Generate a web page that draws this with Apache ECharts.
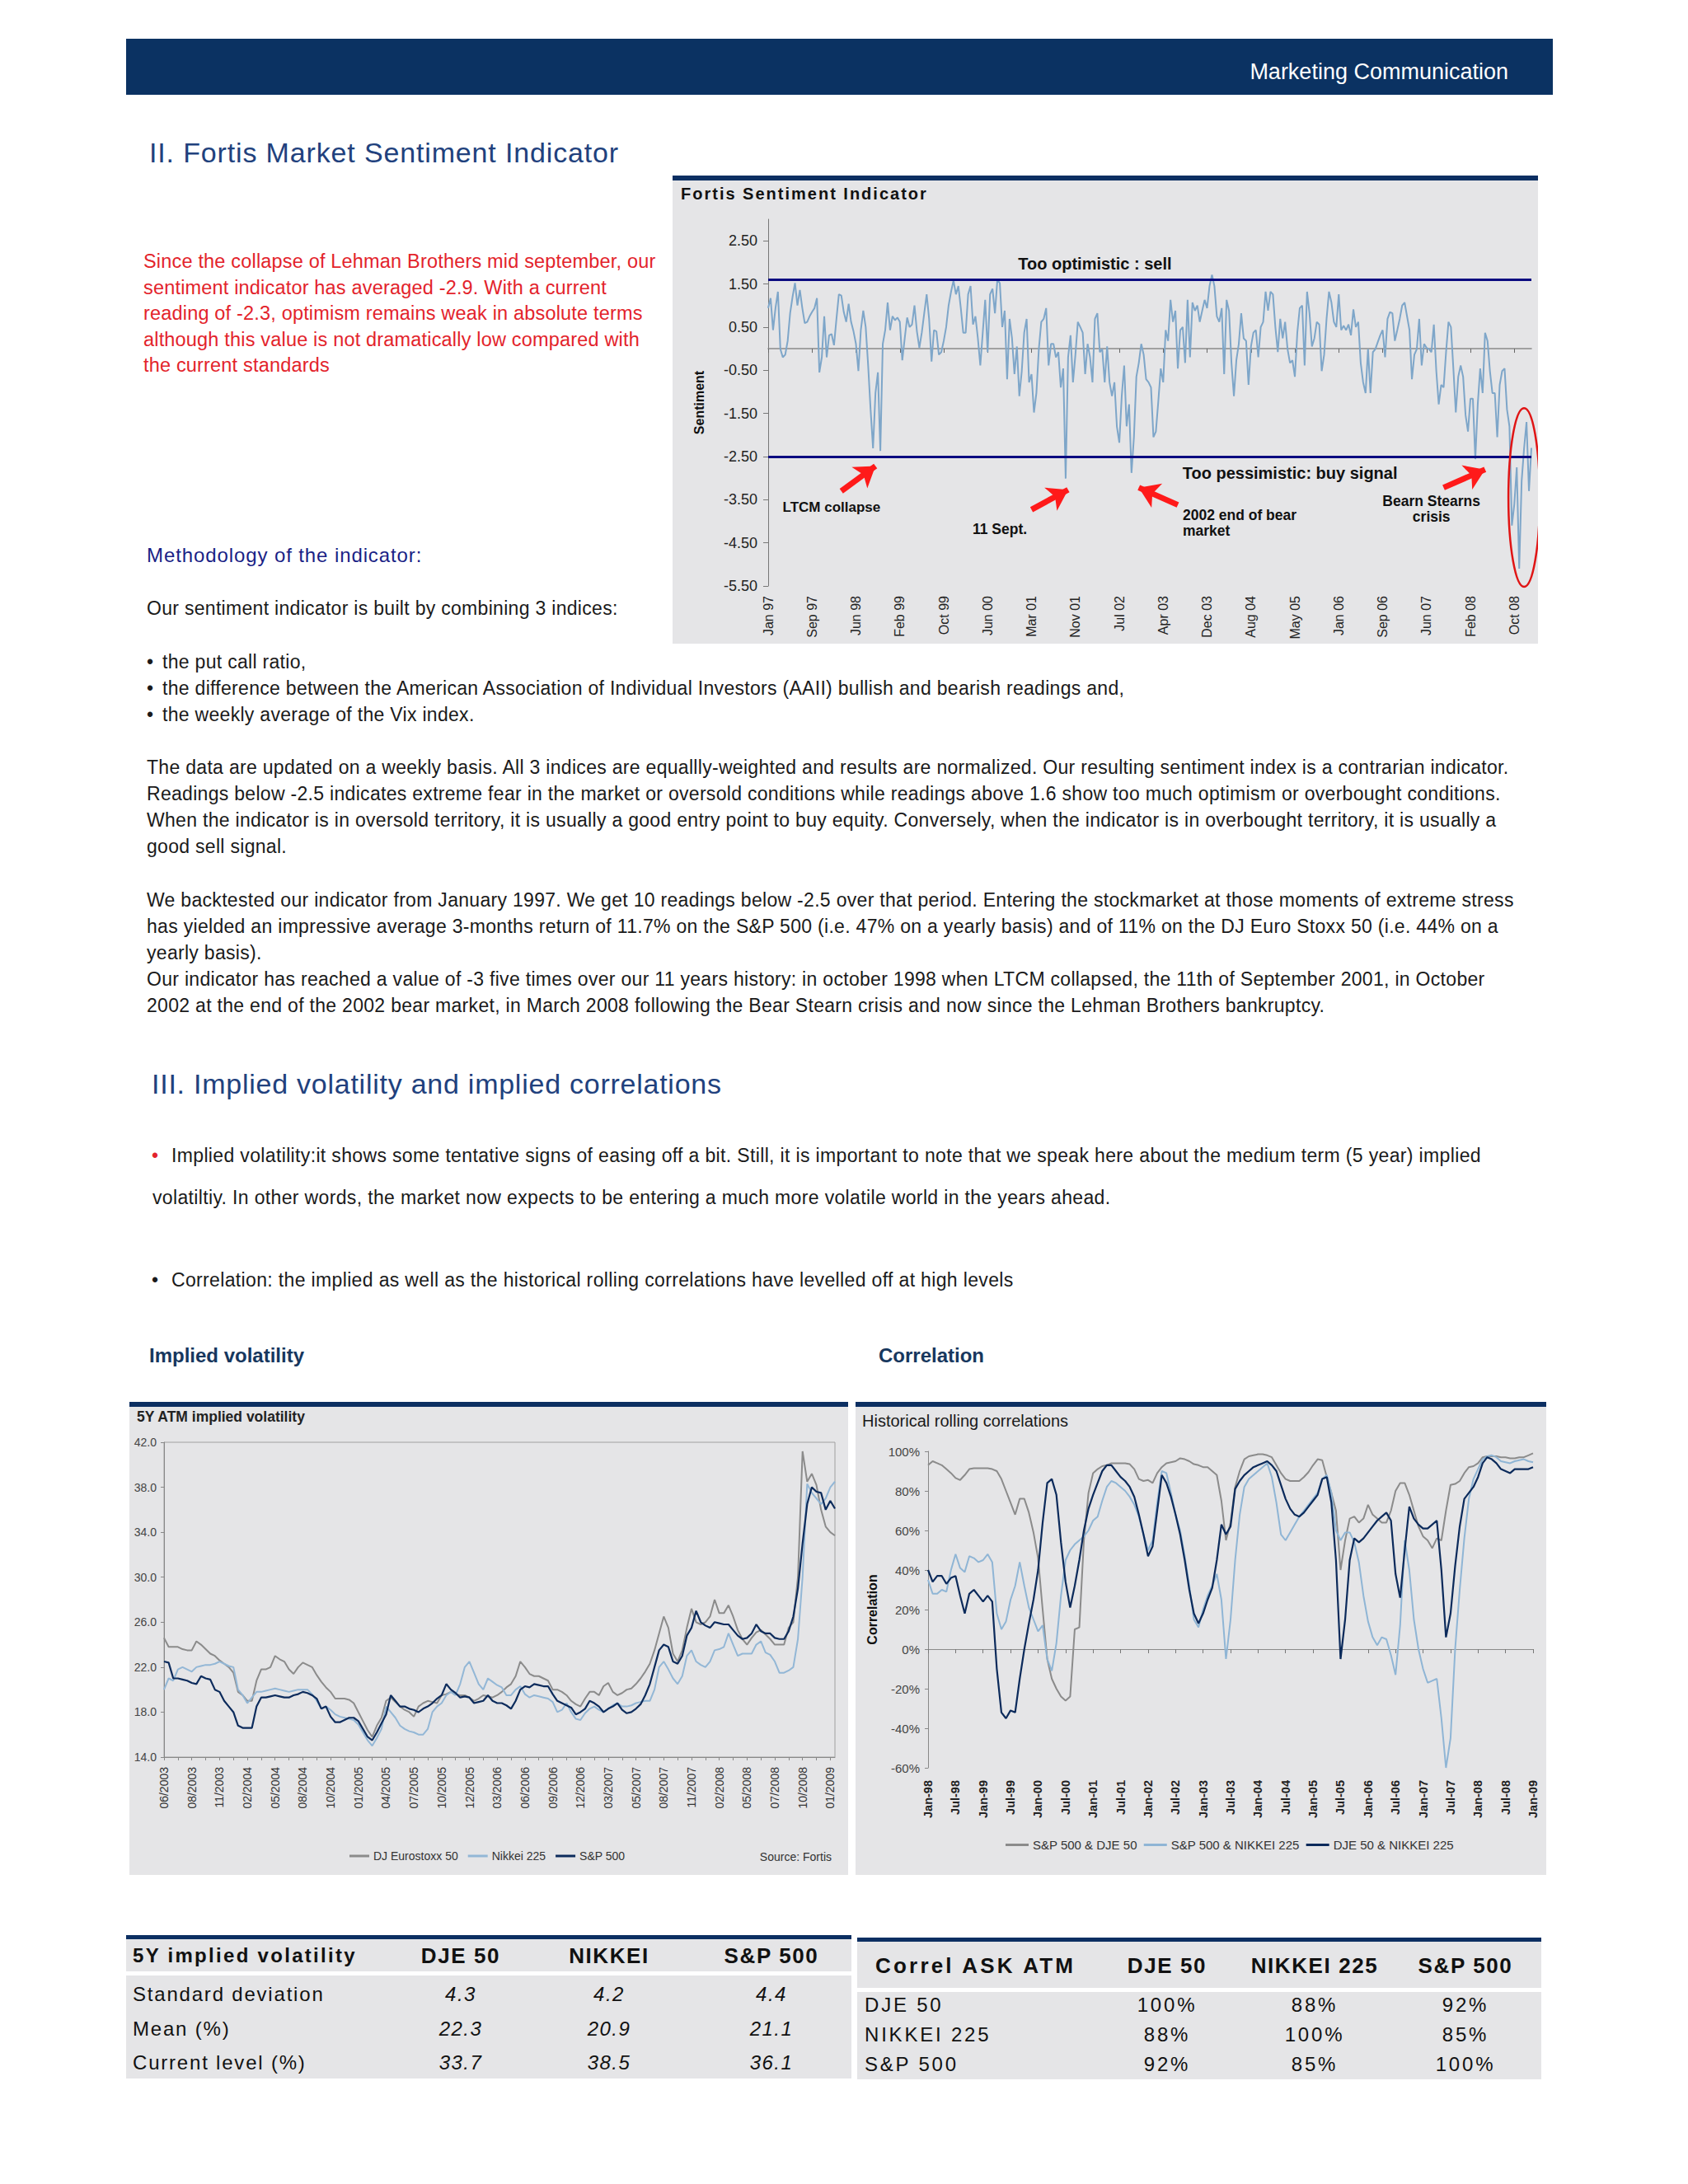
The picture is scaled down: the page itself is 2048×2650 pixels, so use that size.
<!DOCTYPE html>
<html><head><meta charset="utf-8">
<script src="https://cdn.jsdelivr.net/npm/echarts@6/dist/echarts.min.js"></script>
<style>
html,body{margin:0;padding:0;background:#fff;}
body{width:2048px;height:2650px;position:relative;font-family:"Liberation Sans",Arial,sans-serif;color:#1a1a1a;overflow:hidden}
.hdr{position:absolute;left:153px;top:47px;width:1731px;height:68px;background:#0b3262;}
.hdr span{position:absolute;right:54px;top:24px;color:#fff;font-size:27px;line-height:32px;}
.h1{position:absolute;white-space:nowrap;font-size:34px;line-height:38px;color:#21417d;letter-spacing:0.85px;}
.ln{position:absolute;white-space:nowrap;font-size:23px;line-height:32px;letter-spacing:0.3px;}
.bl{display:inline-block;width:19px;}
.red{position:absolute;left:174px;top:302px;width:660px;height:170px;white-space:nowrap;font-size:23.5px;line-height:31.5px;color:#e3232b;letter-spacing:0.18px;}
.sub{position:absolute;white-space:nowrap;font-size:24px;line-height:32px;font-weight:bold;color:#17375e;}
.box{position:absolute;box-sizing:border-box;background:#e5e5e7;border-top:6px solid #0c2f62;}
.chart{position:absolute;}
.ctitle{position:absolute;white-space:nowrap;font-size:20px;line-height:24px;font-weight:bold;color:#111;letter-spacing:2px;}
.tb{position:absolute;}
.cell{position:absolute;white-space:nowrap;line-height:32px;height:32px;font-size:24px;color:#111;}
</style></head>
<body>
<div class="hdr"><span>Marketing Communication</span></div>
<div class="h1" style="left:181px;top:166px;">II. Fortis Market Sentiment Indicator</div>

<div class="red">Since the collapse of Lehman Brothers mid september, our<br>sentiment indicator has averaged -2.9. With a current<br>reading of -2.3, optimism remains weak in absolute terms<br>although this value is not dramatically low compared with<br>the current standards</div>

<div class="box" style="left:816px;top:213px;width:1050px;height:568px;"></div>
<div id="sent" class="chart" style="left:816px;top:219px;width:1050px;height:562px;"></div>
<div class="ctitle" style="left:826px;top:223px;">Fortis Sentiment Indicator</div>

<div class="ln" style="left:178px;top:658px;color:#1a1f86;font-size:24px;letter-spacing:0.9px;">Methodology of the indicator:</div>
<div class="ln" style="left:178px;top:722px;">Our sentiment indicator is built by combining 3 indices:</div>
<div class="ln" style="left:178px;top:787px;"><span class="bl">•</span>the put call ratio,<br><span class="bl">•</span>the difference between the American Association of Individual Investors (AAII) bullish and bearish readings and,<br><span class="bl">•</span>the weekly average of the Vix index.</div>
<div class="ln" style="left:178px;top:915px;">The data are updated on a weekly basis. All 3 indices are equallly-weighted and results are normalized. Our resulting sentiment index is a contrarian indicator.<br>Readings below -2.5 indicates extreme fear in the market or oversold conditions while readings above 1.6 show too much optimism or overbought conditions.<br>When the indicator is in oversold territory, it is usually a good entry point to buy equity. Conversely, when the indicator is in overbought territory, it is usually a<br>good sell signal.</div>
<div class="ln" style="left:178px;top:1076px;">We backtested our indicator from January 1997. We get 10 readings below -2.5 over that period. Entering the stockmarket at those moments of extreme stress<br>has yielded an impressive average 3-months return of 11.7% on the S&amp;P 500 (i.e. 47% on a yearly basis) and of 11% on the DJ Euro Stoxx 50 (i.e. 44% on a<br>yearly basis).<br>Our indicator has reached a value of -3 five times over our 11 years history: in october 1998 when LTCM collapsed, the 11th of September 2001, in October<br>2002 at the end of the 2002 bear market, in March 2008 following the Bear Stearn crisis and now since the Lehman Brothers bankruptcy.</div>

<div class="h1" style="left:184px;top:1296px;letter-spacing:0.75px;">III. Implied volatility and implied correlations</div>
<div class="ln" style="left:184px;top:1386px;letter-spacing:0.35px;"><span class="bl" style="color:#e3232b;width:24px;">•</span>Implied volatility:it shows some tentative signs of easing off a bit. Still, it is important to note that we speak here about the medium term (5 year) implied</div>
<div class="ln" style="left:185px;top:1437px;letter-spacing:0.35px;">volatiltiy. In other words, the market now expects to be entering a much more volatile world in the years ahead.</div>
<div class="ln" style="left:184px;top:1537px;letter-spacing:0.35px;"><span class="bl" style="width:24px;">•</span>Correlation: the implied as well as the historical rolling correlations have levelled off at high levels</div>
<div class="sub" style="left:181px;top:1629px;">Implied volatility</div>
<div class="sub" style="left:1066px;top:1629px;">Correlation</div>

<div class="box" style="left:157px;top:1701px;width:872px;height:574px;"></div>
<div id="vol" class="chart" style="left:157px;top:1707px;width:872px;height:568px;"></div>
<div class="box" style="left:1038px;top:1701px;width:838px;height:574px;"></div>
<div id="cor" class="chart" style="left:1038px;top:1707px;width:838px;height:568px;"></div>

<div id="tables"></div>

<script>
// ---------------- DATA ----------------
const sentTickLabels = ['Jan 97','Sep 97','Jun 98','Feb 99','Oct 99','Jun 00','Mar 01','Nov 01','Jul 02','Apr 03','Dec 03','Aug 04','May 05','Jan 06','Sep 06','Jun 07','Feb 08','Oct 08'];
// bi-weekly readings, Jan 1997 -> Nov 2008
const sentValues = [
0.94,1.17,0.43,0.94,1.32,-0.01,-0.2,-0.14,0.18,0.82,
1.2,1.52,1.0,1.36,0.94,0.59,0.62,0.75,0.85,0.94,
1.17,-0.55,-0.2,0.75,-0.2,0.31,0.34,0.08,0.69,1.26,
1.23,0.85,0.62,1.04,0.62,0.4,0.11,-0.52,0.43,0.88,
0.5,-0.39,-1.41,-2.31,-1.03,-0.55,-2.37,0.11,0.43,1.07,
0.43,0.75,0.66,0.72,0.62,-0.27,0.24,0.72,0.5,0.56,
1.0,0.4,0.02,0.37,0.82,1.26,0.69,-0.3,0.43,0.4,
-0.14,-0.08,0.18,0.5,1.0,1.32,1.58,1.26,1.45,
0.94,0.37,0.37,1.26,1.45,0.56,0.75,0.24,-0.39,0.37,
1.13,-0.08,1.26,1.39,0.82,1.6,1.52,0.5,0.88,-0.71,
0.69,0.24,-0.59,0.05,-1.1,-0.52,0.37,0.69,-0.78,-0.59,
-1.48,-1.03,-0.01,0.62,0.69,0.94,-0.39,0.11,0.11,-0.2,
-0.08,-0.9,-0.46,-3.01,-0.2,0.31,-0.78,-0.14,0.62,0.5,
0.37,-0.59,0.11,-0.2,-0.78,0.69,0.82,-0.08,-0.01,-0.78,
0.05,-0.78,-1.1,-0.78,-1.8,-2.18,-1.1,-0.39,-1.8,-1.29,
-2.88,-2.05,-0.65,-0.33,0.11,-0.14,-0.71,-0.78,-0.9,
-2.05,-1.92,-1.22,-0.46,-0.78,0.43,0.18,1.13,0.62,0.88,
-0.46,0.43,0.5,-0.33,1.13,-0.2,1.07,0.88,1.0,0.62,
0.88,1.13,0.94,1.45,1.71,1.45,0.75,0.62,0.94,-0.59,
1.13,0.88,-0.33,-1.1,-0.27,0.11,0.82,0.24,0.18,-0.84,
0.05,0.37,0.43,-0.2,0.5,0.62,1.32,0.88,1.32,1.26,
0.5,-0.08,0.69,0.24,0.62,-0.01,-0.33,-0.27,-0.65,0.37,
0.94,1.0,-0.39,1.32,0.82,0.05,0.24,0.62,0.56,-0.52,
-0.14,0.69,1.32,1.07,0.62,0.5,1.26,0.43,
0.53,0.43,0.56,0.31,0.91,0.5,0.62,-0.33,-0.78,-1.03,
-0.01,-1.03,-0.08,-0.01,0.15,0.31,0.43,-0.2,0.69,0.85,
0.82,0.18,0.43,0.69,1.0,1.07,0.75,0.43,-0.71,-0.14,
-0.01,0.69,-0.39,0.11,0.02,-0.01,-0.08,0.56,-0.52,-1.29,
-0.84,-0.9,-0.08,0.62,0.5,-0.46,-1.48,-0.65,-0.39,-0.65,
-1.54,-1.92,-1.16,-1.16,-2.56,-1.29,-0.46,-1.03,0.37,0.18,
-0.52,-1.03,-1.03,-2.05,-0.84,-0.52,-0.46,-1.41,-1.8,-4.1,
-3.6,-2.75,-5.1,-3.07,-2.31,-1.7,-3.3,-2.3];
const sentYTicks = [-5.5,-4.5,-3.5,-2.5,-1.5,-0.5,0.5,1.5,2.5];
const sentThresholds = [1.6, -2.5];

const volTickLabels = ['06/2003','08/2003','11/2003','02/2004','05/2004','08/2004','10/2004','01/2005','04/2005','07/2005','10/2005','12/2005','03/2006','06/2006','09/2006','12/2006','03/2007','05/2007','08/2007','11/2007','02/2008','05/2008','07/2008','10/2008','01/2009'];
const volEuro = [
24.6,23.8,23.8,23.8,23.6,23.5,23.5,24.3,24.0,23.6,
23.2,23.0,22.6,22.3,22.0,21.5,19.8,19.5,19.0,19.0,
20.8,21.8,21.8,22.0,23.0,22.7,22.5,21.8,21.4,22.0,
22.4,22.2,22.0,21.3,20.7,20.2,19.8,19.2,19.2,19.2,
19.1,18.8,18.0,17.2,16.4,15.8,16.8,17.5,19.0,19.3,
18.9,18.5,18.2,18.0,17.6,18.5,18.8,19.0,18.9,18.8,
19.5,19.6,19.8,19.6,19.5,19.5,19.3,19.0,19.2,19.5,
19.4,19.3,19.5,19.8,20.2,20.5,21.2,22.5,22.0,21.4,
21.2,21.2,21.0,20.8,20.0,20.0,19.8,19.5,19.0,18.7,
18.5,19.2,19.8,19.8,19.5,20.3,20.6,19.8,19.5,19.7,
20.0,20.1,20.5,21.0,21.6,22.3,23.5,25.0,26.5,25.5,
23.2,22.5,23.5,25.5,27.2,26.0,25.8,26.0,26.5,28.0,
26.8,26.8,27.5,26.5,25.3,24.5,24.0,24.6,25.1,25.3,
24.9,24.5,24.0,24.0,24.0,25.5,26.0,30.0,41.2,38.5,
39.2,38.2,36.0,34.5,34.0,33.7];
const volNikkei = [
20.0,21.0,20.8,21.8,22.0,21.8,21.6,22.0,22.1,22.2,
22.2,22.3,22.5,22.3,22.1,22.0,20.0,19.5,18.8,19.3,
19.8,19.8,19.9,20.0,20.1,20.0,19.9,19.8,19.9,20.0,
20.0,20.0,19.6,19.0,18.3,18.5,18.2,17.8,17.6,17.5,
17.4,17.3,16.9,16.2,15.5,15.0,15.7,16.5,18.5,18.0,
17.5,16.8,16.5,16.3,16.2,16.0,16.0,16.5,18.0,18.5,
18.8,19.5,19.8,19.5,20.5,22.0,22.5,21.5,20.5,20.0,
21.0,20.7,20.4,20.2,19.5,19.5,20.0,20.3,19.6,19.3,
19.5,19.4,19.3,19.2,18.9,18.0,18.2,18.8,18.0,17.4,
17.3,17.9,18.3,18.5,18.2,18.0,18.3,18.6,18.8,18.5,
18.5,18.6,18.8,18.9,19.0,19.0,20.0,22.0,22.5,21.8,
21.0,20.5,21.2,23.0,23.5,22.5,22.2,22.0,22.5,23.5,
23.6,23.8,25.0,24.0,23.0,23.2,23.2,23.2,24.0,24.3,
23.3,23.1,22.5,21.5,21.5,21.7,22.0,24.5,30.0,38.3,
37.5,37.0,36.5,37.0,38.0,38.5];
const volSP = [
22.5,22.4,21.0,21.0,20.9,20.8,20.6,20.5,21.2,21.0,
20.9,20.0,19.8,19.0,18.5,18.0,16.8,16.6,16.6,16.6,
18.5,19.3,19.3,19.4,19.5,19.4,19.3,19.3,19.5,19.6,
19.8,19.7,19.5,19.2,18.3,18.5,17.6,17.1,17.1,17.3,
17.5,17.5,17.2,16.5,15.8,15.5,16.2,17.0,17.8,19.5,
19.0,18.5,18.5,18.3,18.2,18.0,18.3,18.5,18.8,19.2,
19.5,20.5,20.0,19.7,19.3,19.4,19.3,18.8,18.9,19.0,
19.5,19.0,18.8,18.8,18.6,18.3,19.0,20.0,20.3,20.2,
20.5,20.4,20.3,20.3,19.6,19.0,18.8,18.6,18.4,17.8,
18.0,18.3,19.0,18.8,18.5,18.0,18.3,18.5,18.8,18.2,
17.9,18.0,18.3,18.7,19.5,20.5,22.0,23.5,24.0,23.8,
22.5,22.3,23.0,24.8,25.5,27.0,26.0,25.7,25.5,26.0,
25.9,25.8,25.8,25.3,24.8,24.5,24.6,25.0,25.8,25.2,
25.0,25.0,24.6,24.5,24.5,25.2,26.5,29.0,33.0,36.5,
38.0,37.6,37.5,36.0,36.8,36.1];

const corTickLabels = ['Jan-98','Jul-98','Jan-99','Jul-99','Jan-00','Jul-00','Jan-01','Jul-01','Jan-02','Jul-02','Jan-03','Jul-03','Jan-04','Jul-04','Jan-05','Jul-05','Jan-06','Jul-06','Jan-07','Jul-07','Jan-08','Jul-08','Jan-09'];
// monthly, Jan 1998 -> Jan 2009 (%)
const corSpDje = [
93,95,94,93,91,89,86.5,85.5,88,91,
91.5,91.5,91.5,91.5,91,90,86,80,74,68,
76,76,69,59,46,20,-5,-15,-20,-24,
-26,-24,10,11,55,79,89,91,92.5,93,
94,94,94,94,93.5,91,86,85,85.5,84,
89,92,94,94.5,95,96.5,96,95,93.5,93,
92,92,90,88,75,55,64,82,90,96,
97.5,98,98.5,98.5,98,97,93,89,86,85,
85,85,87,89.5,93,96,95.5,87,79,70,
40,55,66,67,64,66,73,68,66,64,
64,70,80,84,84,78,70,62,57,55,
51,56,55,70,83,83.5,85,89,92,92.5,
94,97,97.5,97.5,97.5,97,97,96.5,96.5,97,
97,98,99];
const corSpNikkei = [
35,28,28,30,29,40,48,41,39,47,
46,44,45,48,44,18,10,14,25,32,
44,32,21,15,9,12,-5,-11,3,27,
45,50,53,55,57,60,65,67,75,82,
85,84,82,80,77,73,67,58,50,55,
74,90,89,79,68,60,47,32,15,11,
20,27,32,38,25,-5,15,45,68,82,
86,88,90,92,94,87,74,58,55,59,
63,67,70,73,76,79,86,88,79,60,
55,59,59,54,44,27,14,6,2,6,
5,-3,-13,12,55,40,15,0,-10,-17,
-16,-15,-35,-60,-45,0,30,56,76,86,
91,96,97.5,98,97,95,94.5,94,95,95.5,
96,95,94.5];
const corDjeNikkei = [
40,34,37,37,33,36,37,27,18,28,
30,27,24,27,24,-10,-32,-35,-31,-32,
-15,0,13,25,40,64,84,86,78,54,
34,21,32,45,60,71,78,84,90,93,
93,90,87,85,82,77,68,58,47,52,
70,88,84,77,68,58,45,30,18,13,
18,25,31,45,63,58,62,81,85,88,
90,92,93,94,95,93,90,83,76,71,
68,67,69,72,75,78,86,87,74,45,
-5,15,45,56,54,56,59,62,65,67,
69,65,38,26,50,72,66,63,61,61,
63,65,40,6,18,42,62,76,79,82,
87,94,97,96,94,91,90,89,91,91,
91,91,92];

const tblVolHead = ['5Y implied volatility','DJE 50','NIKKEI','S&P 500'];
const tblVolRows = [['Standard deviation','4.3','4.2','4.4'],['Mean (%)','22.3','20.9','21.1'],['Current level (%)','33.7','38.5','36.1']];
const tblCorHead = ['Correl ASK ATM','DJE 50','NIKKEI 225','S&P 500'];
const tblCorRows = [['DJE 50','100%','88%','92%'],['NIKKEI 225','88%','100%','85%'],['S&P 500','92%','85%','100%']];

// ---------------- CHARTS ----------------
const F = '"Liberation Sans", Arial, sans-serif';

// Sentiment
const sentIdx = sentValues.map((_, i) => String(i));
const sentNotes = [
  {text:'Too optimistic : sell', i:134, v:1.97, align:'center', fs:20},
  {text:'Too pessimistic: buy signal', i:214, v:-2.89, align:'center', fs:20},
  {text:'LTCM collapse', i:26, v:-3.67, align:'center', fs:17},
  {text:'11 Sept.', i:95, v:-4.19, align:'center', fs:17.5},
  {text:'2002 end of bear\nmarket', i:170, v:-4.04, align:'left', fs:17.5},
  {text:'Bearn Stearns\ncrisis', i:272, v:-3.72, align:'center', fs:17.5}
];
const sentArrows = [[30,-3.3,44,-2.72],[108,-3.73,123,-3.27],[168,-3.62,152,-3.22],[277,-3.22,294,-2.8]];

const sent = echarts.init(document.getElementById('sent'), null, {renderer:'svg'});
sent.setOption({
  animation:false,
  textStyle:{fontFamily:F},
  grid:{left:116, right:8, top:47, bottom:70},
  xAxis:[
    {type:'category', data:sentIdx, boundaryGap:false, position:'bottom',
     axisLine:{show:false, onZero:false}, axisTick:{show:false},
     axisLabel:{interval:(i)=> i % 18 === 0, rotate:90, margin:12, fontSize:16, color:'#222', fontFamily:F,
       formatter:(v, i)=> (i % 18 === 0 ? sentTickLabels[i/18] : '')}},
    {type:'category', data:sentIdx, boundaryGap:false, position:'bottom',
     axisLine:{show:true, onZero:true, lineStyle:{color:'#8a8a8a', width:1.5}},
     axisTick:{show:true, interval:17, length:5, inside:false, lineStyle:{color:'#666'}},
     axisLabel:{show:false}}
  ],
  yAxis:{type:'value', min:-5.5, max:3,
    axisLine:{show:true, lineStyle:{color:'#777'}},
    axisTick:{show:true, length:6, customValues:sentYTicks, lineStyle:{color:'#777'}},
    axisLabel:{customValues:sentYTicks, formatter:(v)=> v.toFixed(2), fontSize:18, color:'#222', margin:13, fontFamily:F},
    splitLine:{show:false},
    name:'Sentiment', nameLocation:'middle', nameRotate:90, nameGap:76,
    nameTextStyle:{fontSize:16, fontWeight:'bold', color:'#111', fontFamily:F}},
  series:[
    {type:'line', name:'Sentiment', data:sentValues, xAxisIndex:0, symbol:'none', z:3,
     lineStyle:{color:'#7ea6c9', width:2},
     markLine:{silent:true, symbol:'none', label:{show:false},
       lineStyle:{color:'#0a0a80', width:3, type:'solid'},
       data: sentThresholds.map(t => ({yAxis:t}))},
     markPoint:{symbol:'circle', symbolSize:0, silent:true,
       data: sentNotes.map(n => ({coord:[n.i, n.v],
         label:{show:true, position:'inside', formatter:n.text, align:n.align, verticalAlign:'middle',
           fontSize:n.fs, fontWeight:'bold', color:'#111', lineHeight:19, fontFamily:F}}))}},
    {type:'line', name:'arrows', data:[], xAxisIndex:0, symbol:'none',
     markLine:{silent:true, symbol:['none','arrow'], symbolSize:24, label:{show:false},
       lineStyle:{color:'#ff1a1a', width:7, type:'solid', opacity:1},
       itemStyle:{color:'#ff1a1a'},
       data: sentArrows.map(a => [{coord:[a[0], a[1]]}, {coord:[a[2], a[3]]}])}}
  ]
});
(function(){
  const c = sent.convertToPixel({xAxisIndex:0, yAxisIndex:0}, [310, -3.45]);
  const t = sent.convertToPixel({xAxisIndex:0, yAxisIndex:0}, [310, -1.38]);
  sent.setOption({graphic:[{type:'ellipse', shape:{cx:c[0], cy:c[1], rx:19, ry:Math.abs(c[1]-t[1])},
    style:{fill:'none', stroke:'#e01515', lineWidth:2.5}, z:10}]});
})();

// Implied volatility
const volIdx = volEuro.map((_, i) => String(i));
const vol = echarts.init(document.getElementById('vol'), null, {renderer:'svg'});
vol.setOption({
  animation:false,
  textStyle:{fontFamily:F},
  title:[
    {text:'5Y ATM implied volatility', left:9, top:3, padding:0, textStyle:{fontSize:17.5, fontWeight:'bold', color:'#222', fontFamily:F}},
    {text:'Source: Fortis', right:20, top:539, padding:0, textStyle:{fontSize:14, fontWeight:'normal', color:'#333', fontFamily:F}}
  ],
  grid:{left:42, right:16, top:43, bottom:143, show:true, borderColor:'#a0a0a0', borderWidth:1, backgroundColor:'transparent'},
  legend:{left:262, top:533, icon:'rect', itemWidth:24, itemHeight:3, itemGap:12,
    textStyle:{fontSize:14, color:'#333', fontFamily:F},
    data:['DJ Eurostoxx 50','Nikkei 225','S&P 500']},
  xAxis:{type:'category', data:volIdx, boundaryGap:false,
    axisLine:{lineStyle:{color:'#888'}},
    axisTick:{interval:2, length:4, lineStyle:{color:'#888'}},
    axisLabel:{interval:(i)=> i % 6 === 0, rotate:90, margin:12, fontSize:14, color:'#333', fontFamily:F,
      formatter:(v, i)=> (i % 6 === 0 ? volTickLabels[i/6] : '')}},
  yAxis:{type:'value', min:14, max:42, interval:4,
    axisLine:{show:true, lineStyle:{color:'#888'}},
    axisTick:{show:true, length:4, lineStyle:{color:'#888'}},
    axisLabel:{formatter:(v)=> v.toFixed(1), fontSize:14, color:'#444', margin:9, fontFamily:F},
    splitLine:{show:false}},
  series:[
    {type:'line', name:'DJ Eurostoxx 50', data:volEuro, symbol:'none', lineStyle:{color:'#8b8b8b', width:2}, itemStyle:{color:'#8b8b8b'}},
    {type:'line', name:'Nikkei 225', data:volNikkei, symbol:'none', lineStyle:{color:'#93b7d6', width:2}, itemStyle:{color:'#93b7d6'}},
    {type:'line', name:'S&P 500', data:volSP, symbol:'none', lineStyle:{color:'#0c2b5c', width:2.2}, itemStyle:{color:'#0c2b5c'}}
  ]
});

// Correlations
const corIdx = corSpDje.map((_, i) => String(i));
const cor = echarts.init(document.getElementById('cor'), null, {renderer:'svg'});
cor.setOption({
  animation:false,
  textStyle:{fontFamily:F},
  title:{text:'Historical rolling correlations', left:8, top:7, padding:0, textStyle:{fontSize:20, fontWeight:'normal', color:'#1a1a1a', fontFamily:F}},
  grid:{left:88, right:16, top:54, bottom:130},
  legend:{left:177, top:519, icon:'rect', itemWidth:28, itemHeight:3, itemGap:8,
    textStyle:{fontSize:15, color:'#333', fontFamily:F},
    data:['S&P 500 & DJE 50','S&P 500 & NIKKEI 225','DJE 50 & NIKKEI 225']},
  xAxis:[
    {type:'category', data:corIdx, boundaryGap:false, position:'bottom',
     axisLine:{show:false, onZero:false}, axisTick:{show:false},
     axisLabel:{interval:(i)=> i % 6 === 0, rotate:90, margin:15, fontSize:14.5, fontWeight:'bold', color:'#222', fontFamily:F,
       formatter:(v, i)=> (i % 6 === 0 ? corTickLabels[i/6] : '')}},
    {type:'category', data:corIdx, boundaryGap:false, position:'bottom',
     axisLine:{show:true, onZero:true, lineStyle:{color:'#8a8a8a', width:1.2}},
     axisTick:{show:true, interval:5, length:5, lineStyle:{color:'#777'}},
     axisLabel:{show:false}}
  ],
  yAxis:{type:'value', min:-60, max:100, interval:20,
    axisLine:{show:true, lineStyle:{color:'#888'}},
    axisTick:{show:true, length:4, lineStyle:{color:'#888'}},
    axisLabel:{formatter:(v)=> v + '%', fontSize:15, color:'#444', margin:10, fontFamily:F},
    splitLine:{show:false},
    name:'Correlation', nameLocation:'middle', nameRotate:90, nameGap:56,
    nameTextStyle:{fontSize:16, fontWeight:'bold', color:'#111', fontFamily:F}},
  series:[
    {type:'line', name:'S&P 500 & DJE 50', data:corSpDje, symbol:'none', lineStyle:{color:'#8b8b8b', width:2}, itemStyle:{color:'#8b8b8b'}},
    {type:'line', name:'S&P 500 & NIKKEI 225', data:corSpNikkei, symbol:'none', lineStyle:{color:'#8fb5d5', width:2}, itemStyle:{color:'#8fb5d5'}},
    {type:'line', name:'DJE 50 & NIKKEI 225', data:corDjeNikkei, symbol:'none', lineStyle:{color:'#0b2a5b', width:2.2}, itemStyle:{color:'#0b2a5b'}}
  ]
});

// ---------------- TABLES ----------------
(function(){
  const root = document.getElementById('tables');
  function rect(l,t,w,h,c){const d=document.createElement('div');d.className='tb';d.style.cssText=`left:${l}px;top:${t}px;width:${w}px;height:${h}px;background:${c}`;root.appendChild(d);}
  function txt(s,x,cy,opt){const d=document.createElement('div');d.className='cell';d.textContent=s;
    let css=`top:${cy-16}px;`;
    if(opt.center){css+=`left:${x-120}px;width:240px;text-align:center;`;} else {css+=`left:${x}px;`;}
    if(opt.bold) css+='font-weight:bold;'; if(opt.italic) css+='font-style:italic;';
    css+=`letter-spacing:${opt.ls||0}px;font-size:${opt.fs||24}px;`;
    d.style.cssText=css; root.appendChild(d);}
  const navy='#0c2f62', gray='#e5e5e7';
  // left table
  rect(153,2348,880,5,navy); rect(153,2353,880,39,gray); rect(153,2397,880,125,gray);
  const lc=[161,559,739,936];
  tblVolHead.forEach((h,j)=>txt(h,lc[j],2373,{bold:true,center:j>0,ls:j===0?2.3:1.6,fs:j===0?24:26}));
  const lr=[2420,2462,2503];
  tblVolRows.forEach((r,k)=>r.forEach((s,j)=>txt(s,lc[j],lr[k],{center:j>0,italic:j>0,ls:j===0?1.8:1.5})));
  // right table
  rect(1040,2351,830,5,navy); rect(1040,2356,830,56,gray); rect(1040,2417,830,106,gray);
  const rc=[1062,1416,1595,1778];
  tblCorHead.forEach((h,j)=>txt(h,rc[j],2385,{bold:true,center:j>0,ls:j===0?3.2:1.6,fs:26}));
  const rr=[2433,2469,2505]; const rc2=[1049,1416,1595,1778];
  tblCorRows.forEach((r,k)=>r.forEach((s,j)=>txt(s,rc2[j],rr[k],{center:j>0,ls:2.8,fs:24})));
})();
</script>
</body></html>
